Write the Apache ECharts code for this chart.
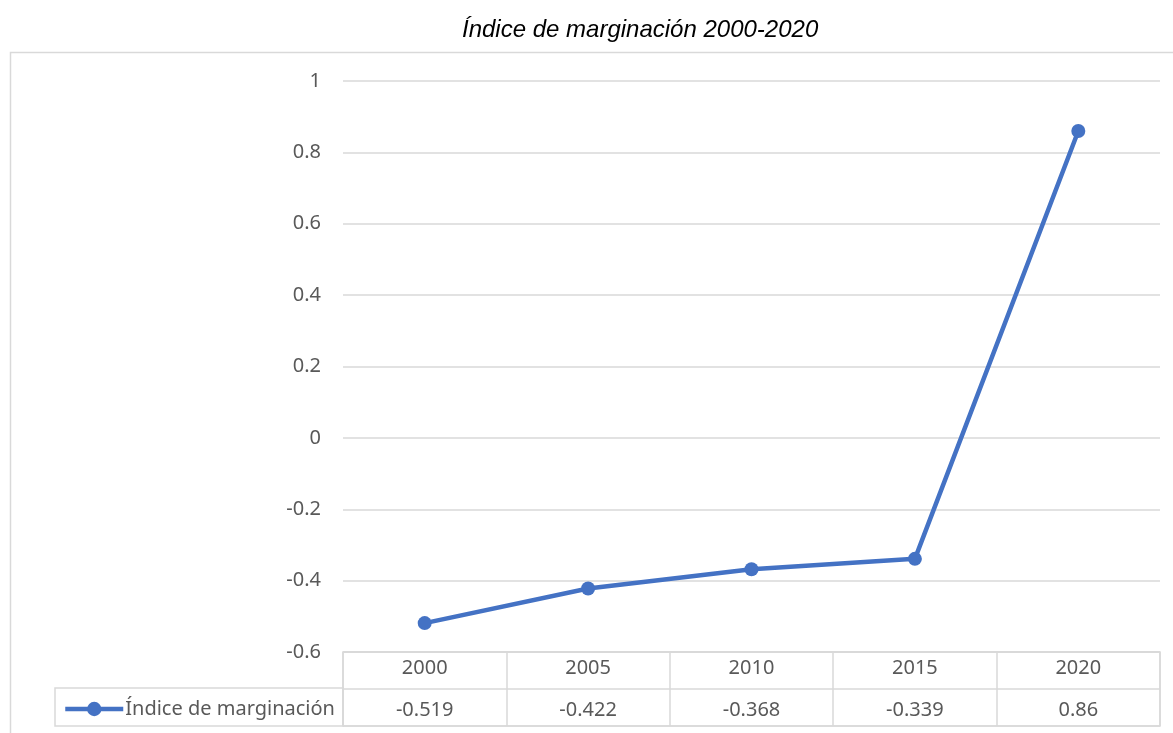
<!DOCTYPE html>
<html>
<head>
  <meta charset="UTF-8">
  <title>Índice de marginación</title>
  <script src="https://cdn.jsdelivr.net/npm/echarts@6/dist/echarts.min.js"></script>
  <style>
    html, body { margin: 0; padding: 0; background: #fff; }
    #main { width: 1173px; height: 733px; }
  </style>
</head>
<body>
  <div id="main"></div>
  <script>
    // datos
    var seriesName = 'Índice de marginación';
    var years = ['2000', '2005', '2010', '2015', '2020'];
    var values = [-0.519, -0.422, -0.368, -0.339, 0.86];
    var yTicks = { min: -0.6, max: 1, step: 0.2 };

    var gris = '#595959';
    var linea = '#d9d9d9';
    var azul = '#4472C4';
    var fuente = 'Noto Sans';

    var myChart = echarts.init(document.getElementById('main'));

    var option = {
      backgroundColor: '#ffffff',
      animation: false,
      title: {
        text: 'Índice de marginación 2000-2020',
        left: 457,
        top: 13,
        textStyle: {
          fontFamily: 'Liberation Sans',
          fontStyle: 'italic',
          fontWeight: 'normal',
          fontSize: 24,
          color: '#000'
        }
      },
      graphic: [
        {
          type: 'rect',
          shape: { x: 10.5, y: 52.5, width: 1200, height: 720 },
          style: { fill: 'none', stroke: linea, lineWidth: 1.5 },
          silent: true
        }
      ],
      legend: {
        data: [seriesName],
        left: 58,
        top: 694,
        itemWidth: 58,
        itemHeight: 18,
        itemGap: 0,
        lineStyle: { width: 4.5 },
        textStyle: { fontFamily: fuente, fontSize: 20, color: gris, padding: [0, 0, 0, -3] }
      },
      grid: [
        // grafico
        { left: 343, right: 13, top: 81, bottom: 81 },
        // tabla de datos
        { left: 343, right: 13, top: 652, bottom: 7, show: true, borderColor: linea, borderWidth: 1.5 },
        // celda de la leyenda
        { left: 55, width: 288, top: 688, height: 38, show: true, borderColor: linea, borderWidth: 1.5 }
      ],
      xAxis: [
        {
          type: 'category', gridIndex: 0, data: years, show: false, boundaryGap: true
        },
        {
          type: 'category', gridIndex: 1, data: years, position: 'top', boundaryGap: true,
          axisLine: { show: false }, axisTick: { show: false },
          axisLabel: { inside: true, margin: 6, fontFamily: fuente, fontSize: 20, color: gris },
          splitLine: { show: true, interval: 0, lineStyle: { color: linea, width: 1.5 } }
        },
        {
          type: 'category', gridIndex: 1, data: values.map(String), position: 'bottom', boundaryGap: true,
          axisLine: { show: false }, axisTick: { show: false },
          axisLabel: { inside: true, margin: 6, fontFamily: fuente, fontSize: 20, color: gris },
          splitLine: { show: false }
        },
        {
          type: 'value', gridIndex: 2, show: false
        }
      ],
      yAxis: [
        {
          type: 'value', gridIndex: 0, min: yTicks.min, max: yTicks.max, interval: yTicks.step,
          axisLine: { show: false }, axisTick: { show: false },
          axisLabel: {
            margin: 22, fontFamily: fuente, fontSize: 20, color: gris,
            formatter: function (v) { return String(Math.round(v * 10) / 10); }
          },
          splitLine: { lineStyle: { color: linea, width: 1.5 } }
        },
        {
          type: 'value', gridIndex: 1, min: 0, max: 2, interval: 1,
          axisLine: { show: false }, axisTick: { show: false }, axisLabel: { show: false },
          splitLine: { lineStyle: { color: linea, width: 1.5 } }
        },
        {
          type: 'value', gridIndex: 2, show: false
        }
      ],
      series: [
        {
          name: seriesName,
          type: 'line',
          xAxisIndex: 0,
          yAxisIndex: 0,
          data: values,
          symbol: 'circle',
          symbolSize: 14,
          itemStyle: { color: azul },
          lineStyle: { color: azul, width: 4.5 }
        }
      ]
    };

    myChart.setOption(option);
  </script>
</body>
</html>
